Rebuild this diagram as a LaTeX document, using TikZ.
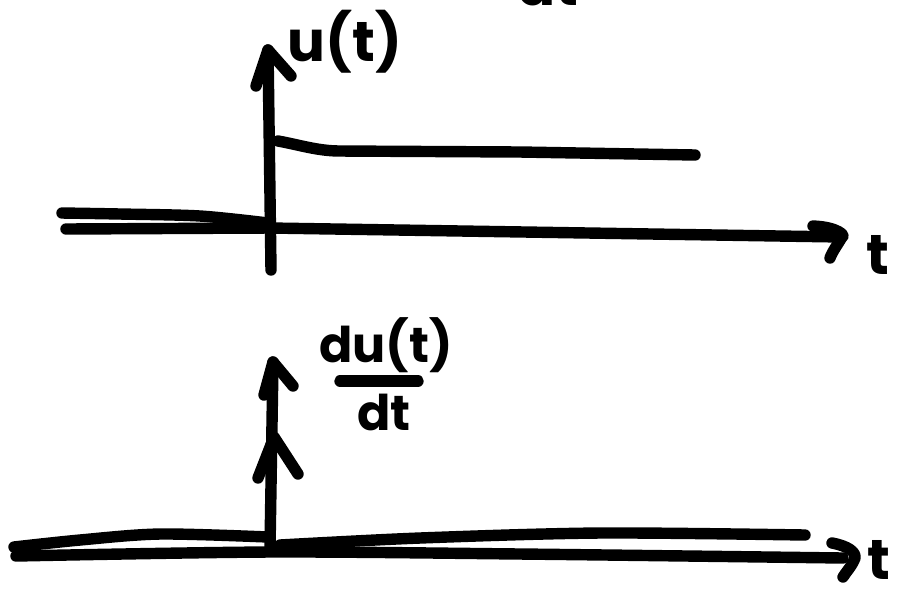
\documentclass[tikz,border=0pt]{standalone}
\usepackage{fontspec}
\setmainfont{Poppins}
\tikzset{
  pen/.style  = {line width=6.5pt, line cap=round, line join=round},
  hand/.style = {font=\fontsize{32}{32}\selectfont\bfseries, inner sep=0pt},
  small/.style = {font=\fontsize{28}{28}\selectfont\bfseries, inner sep=0pt}
}

\begin{document}
\begin{tikzpicture}[x=0.02cm, y=-0.02cm]
    \useasboundingbox (0,0) rectangle (912,593);
    % cut-off label at top
    \node[hand] (top) at (548,-15) {dt};
    % upper plot: step u(t)
    \coordinate (ybot1) at (271,270);
    \coordinate (ytip1) at (268,50);
    \coordinate (xend1) at (842,237);
    \draw[pen] (ybot1) -- (ytip1);
    \draw[pen] (256,86) -- (ytip1) -- (291,76);
    \draw[pen] (278,141) .. controls (300,145) and (318,151) .. (340,151)
        -- (520,152) -- (695,155);
    \draw[pen] plot[smooth] coordinates {(62,213) (120,214) (200,216) (268,223)};
    \draw[pen] (66,229) -- (270,228) -- (xend1);
    \draw[pen] (813,226) .. controls (838,227) and (846,236) .. (xend1)
        .. controls (838,244) and (832,252) .. (830,258);
    \node[hand] (u) at (345,42) {u(t)};
    \node[hand] (t1) at (878,255) {t};
    % lower plot: derivative
    \coordinate (ybot2) at (270,548);
    \coordinate (ytip2) at (273,362);
    \coordinate (imp) at (274,437);
    \coordinate (xend2) at (855,558);
    \draw[pen] (ybot2) -- (ytip2);
    \draw[pen] (264,395) -- (ytip2) -- (293,386);
    \draw[pen] (258,478) -- (imp) -- (298,474);
    \draw[pen] plot[smooth] coordinates {(14,547) (80,540) (160,534) (268,537)};
    \draw[pen] plot[smooth] coordinates {(280,545) (420,538) (600,533) (805,535)};
    \draw[pen] plot[smooth] coordinates {(16,556) (270,552) (520,554) (843,558)};
    \draw[pen] (832,543) .. controls (848,546) and (856,552) .. (xend2)
        .. controls (852,566) and (846,572) .. (843,577);
    \node[small] (num) at (386,345) {du(t)};
    \node[small] (den) at (384,412) {dt};
    \draw[pen] (340,381) -- (418,381);
    \node[hand] (t2) at (879,560) {t};
\end{tikzpicture}
\end{document}
